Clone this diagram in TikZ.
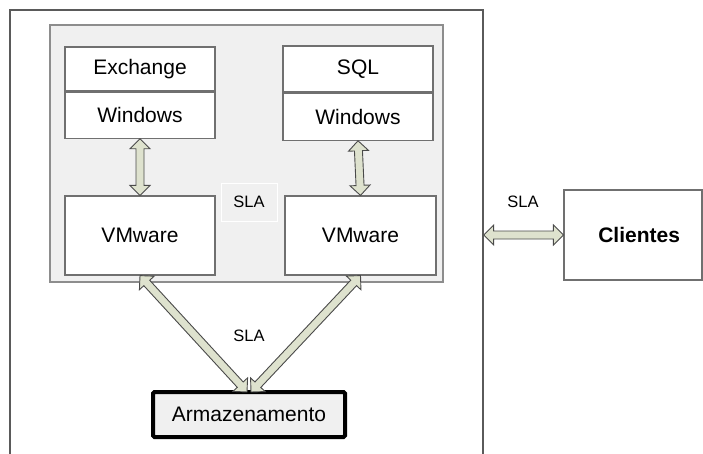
\documentclass[tikz,border=0pt]{standalone}
\usepackage{fontspec}
\setmainfont{Liberation Sans}
\usetikzlibrary{calc}
\usetikzlibrary{positioning}
\definecolor{panelgray}{HTML}{F0F0F0}
\definecolor{linegray}{HTML}{707070}
\definecolor{arrowfill}{HTML}{DEE2CE}
\definecolor{arrowline}{HTML}{4A4A4A}
\tikzset{
  vmbox/.style={rectangle,draw=linegray,line width=1.2pt,fill=white,minimum width=150pt,minimum height=46pt,inner sep=0pt,font=\fontsize{21}{25}\selectfont},
  fatline/.style={fill=arrowfill,draw=arrowline,line width=0.9pt,line join=miter},
  slatext/.style={inner sep=0pt,font=\fontsize{16.5}{20}\selectfont},
}
% double headed block arrow from #1 to #2
\newcommand{\fatarrow}[2]{%
  \draw[fatline] (#1) -- ($(#1)!10pt!(#2)!10pt!90:(#2)$) -- ($(#1)!10pt!(#2)!4pt!90:(#2)$)
    -- ($(#2)!10pt!(#1)!4pt!-90:(#1)$) -- ($(#2)!10pt!(#1)!10pt!-90:(#1)$) -- (#2)
    -- ($(#2)!10pt!(#1)!10pt!90:(#1)$) -- ($(#2)!10pt!(#1)!4pt!90:(#1)$)
    -- ($(#1)!10pt!(#2)!4pt!-90:(#2)$) -- ($(#1)!10pt!(#2)!10pt!-90:(#2)$) -- cycle;}

\begin{document}
\begin{tikzpicture}[x=1pt,y=-1pt]
\useasboundingbox (0,0) rectangle (703,454);
\clip (0,0) rectangle (703,454);
\fill[white] (0,0) rectangle (703,454);

% outer host and the vm panel
\node[rectangle,draw=linegray!80!black,line width=1.3pt,minimum width=473pt,minimum height=470pt,inner sep=0pt] (host) at (246.5,245) {};
\node[rectangle,draw=linegray!80,fill=panelgray,line width=1.2pt,minimum width=393pt,minimum height=257pt,inner sep=0pt] (panel) at (246.5,153.5) {};

\node[vmbox,minimum height=44pt] (exch) at (140,69) {Exchange};
\node[vmbox,below=0pt of exch] (winl) {Windows};
\node[vmbox] (sql) at (358,69) {SQL};
\node[vmbox,minimum height=47pt,below=0pt of sql] (winr) {Windows};
\node[vmbox,minimum height=79pt] (vml) at (140,235.5) {VMware};
\node[vmbox,minimum width=151pt,minimum height=79pt] (vmr) at (360.5,235.5) {VMware};
\node[slatext,draw=white,line width=0.8pt,fill=panelgray,minimum width=56pt,minimum height=38pt] (slamid) at (249,202) {SLA};

\node[rectangle,draw=black,fill=panelgray,line width=4pt,rounded corners=1.5pt,minimum width=192pt,minimum height=45pt,inner sep=0pt,font=\fontsize{21}{25}\selectfont] (arm) at (249,414.5) {Armazenamento};
\node[rectangle,draw=linegray,fill=white,line width=1.2pt,minimum width=138pt,minimum height=90pt,inner sep=0pt,text width=94pt,align=right,font=\fontsize{21}{25}\selectfont\bfseries] (cli) at (633,235) {Clientes};

\node[slatext] (slaarm) at (249,336) {SLA};
\node[slatext] (slacli) at (523,202) {SLA};

\coordinate (arml) at ([xshift=-2pt,yshift=-2pt]arm.north);
\coordinate (armr) at ([xshift=2pt,yshift=-2pt]arm.north);
\coordinate (hostr) at (host.east |- cli.west);

\fatarrow{winl.south}{vml.north}
\fatarrow{winr.south}{vmr.north}
\fatarrow{vml.south}{arml}
\fatarrow{vmr.south}{armr}
\fatarrow{hostr}{cli.west}

\end{tikzpicture}
\end{document}
